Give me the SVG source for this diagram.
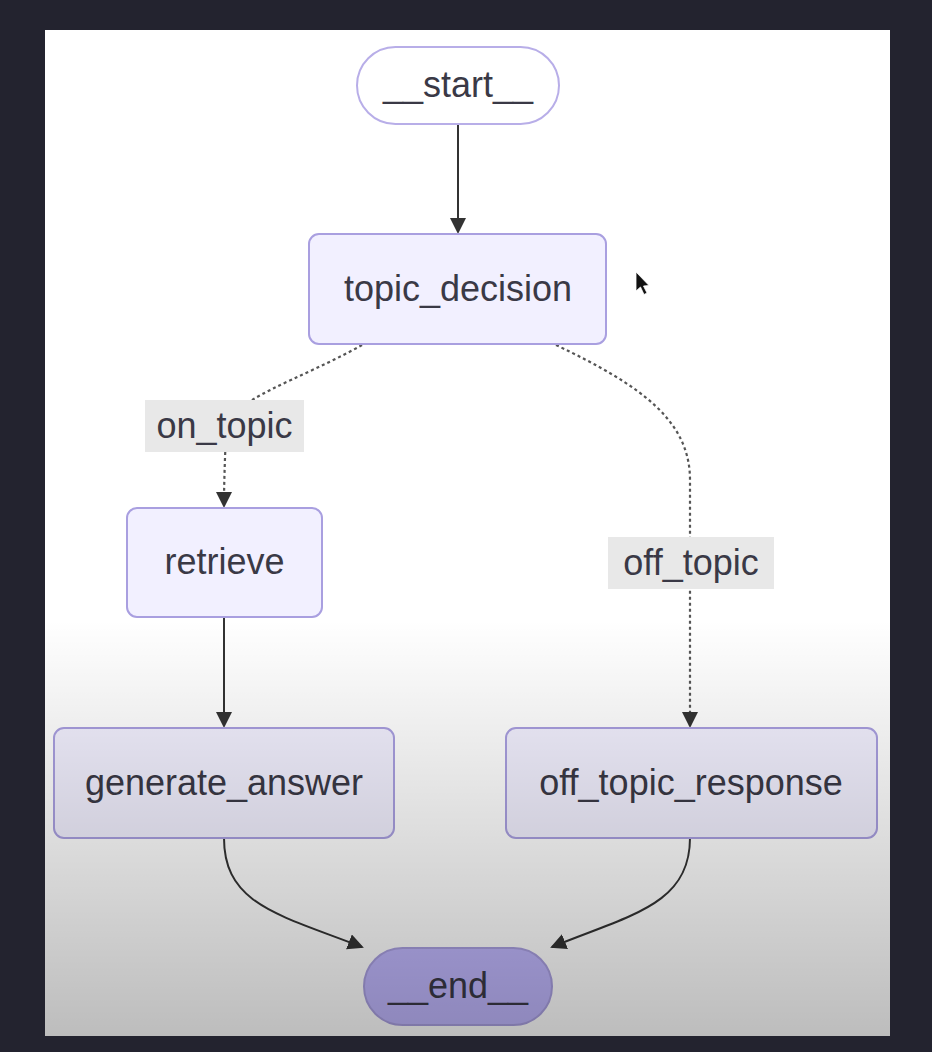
<svg xmlns="http://www.w3.org/2000/svg" width="932" height="1052" viewBox="0 0 932 1052">
  <defs>
    <marker id="arr" markerWidth="16" markerHeight="16" refX="14" refY="8" orient="auto" markerUnits="userSpaceOnUse">
      <path d="M0,0 L16,8 L0,16 z" fill="#333"/>
    </marker>
    <linearGradient id="shade" x1="0" y1="0" x2="0" y2="1" gradientUnits="objectBoundingBox">
      <stop offset="0" stop-color="#000" stop-opacity="0"/>
      <stop offset="1" stop-color="#000" stop-opacity="0.26"/>
    </linearGradient>
    <style>
      .node rect { fill: #f2f0ff; stroke: #a99fe0; stroke-width: 2; }
      .start rect { fill: #ffffff; stroke: #b8aee8; stroke-width: 2; }
      .end rect { fill: #bfb6fc; stroke: #a99fe0; stroke-width: 2; }
      .lbl { font-family: "Liberation Sans", Arial, sans-serif; font-size: 36px; fill: #3a3946; text-anchor: middle; dominant-baseline: central; }
      .edge { fill: none; stroke: #333; stroke-width: 2; }
      .dotted { stroke-dasharray: 3 3; stroke: #555; stroke-width: 2.2; }
      .elabel rect { fill: #e8e8e8; }
    </style>
  </defs>
  <rect x="0" y="0" width="932" height="1052" fill="#23232f"/>
  <rect x="45" y="30" width="845" height="1006" fill="#ffffff"/>

  <g id="connectors">
    <path class="edge" d="M458 124 L458 232" marker-end="url(#arr)"/>
    <path class="edge dotted" d="M362 345 C300 380 228 400 226 430 C225 460 224 480 224 506" marker-end="url(#arr)"/>
    <path class="edge dotted" d="M556 345 C640 385 690 420 690 480 L690 726" marker-end="url(#arr)"/>
    <path class="edge" d="M224 617 L224 726" marker-end="url(#arr)"/>
    <path class="edge" d="M224 838 C224 905 280 915 362 947" marker-end="url(#arr)"/>
    <path class="edge" d="M690 838 C690 905 630 915 552 947" marker-end="url(#arr)"/>
  </g>

  <g id="label-on_topic" class="elabel">
    <rect x="145" y="400" width="159" height="52"/>
    <text class="lbl" x="224.5" y="425">on_topic</text>
  </g>
  <g id="label-off_topic" class="elabel">
    <rect x="608" y="537" width="166" height="52"/>
    <text class="lbl" x="691" y="562">off_topic</text>
  </g>

  <g id="start" class="start">
    <rect x="357" y="47" width="202" height="77" rx="38.5" ry="38.5"/>
    <text class="lbl" x="458" y="84">__start__</text>
  </g>
  <g id="topic_decision" class="node">
    <rect x="309" y="234" width="297" height="110" rx="10" ry="10"/>
    <text class="lbl" x="458" y="288">topic_decision</text>
  </g>
  <g id="retrieve" class="node">
    <rect x="127" y="508" width="195" height="109" rx="10" ry="10"/>
    <text class="lbl" x="224.5" y="561">retrieve</text>
  </g>
  <g id="generate_answer" class="node">
    <rect x="54" y="728" width="340" height="110" rx="10" ry="10"/>
    <text class="lbl" x="224" y="782">generate_answer</text>
  </g>
  <g id="off_topic_response" class="node">
    <rect x="506" y="728" width="371" height="110" rx="10" ry="10"/>
    <text class="lbl" x="691" y="782">off_topic_response</text>
  </g>
  <g id="end" class="end">
    <rect x="364" y="948" width="188" height="77" rx="38.5" ry="38.5"/>
    <text class="lbl" x="458" y="985">__end__</text>
  </g>

  <rect x="45" y="620" width="845" height="416" fill="url(#shade)"/>
  <path d="M636 272 L636 291 L640.5 287 L644 294.5 L647 293 L643.5 286 L649 285.5 Z" fill="#111" stroke="#fff" stroke-width="0.8"/>
</svg>
